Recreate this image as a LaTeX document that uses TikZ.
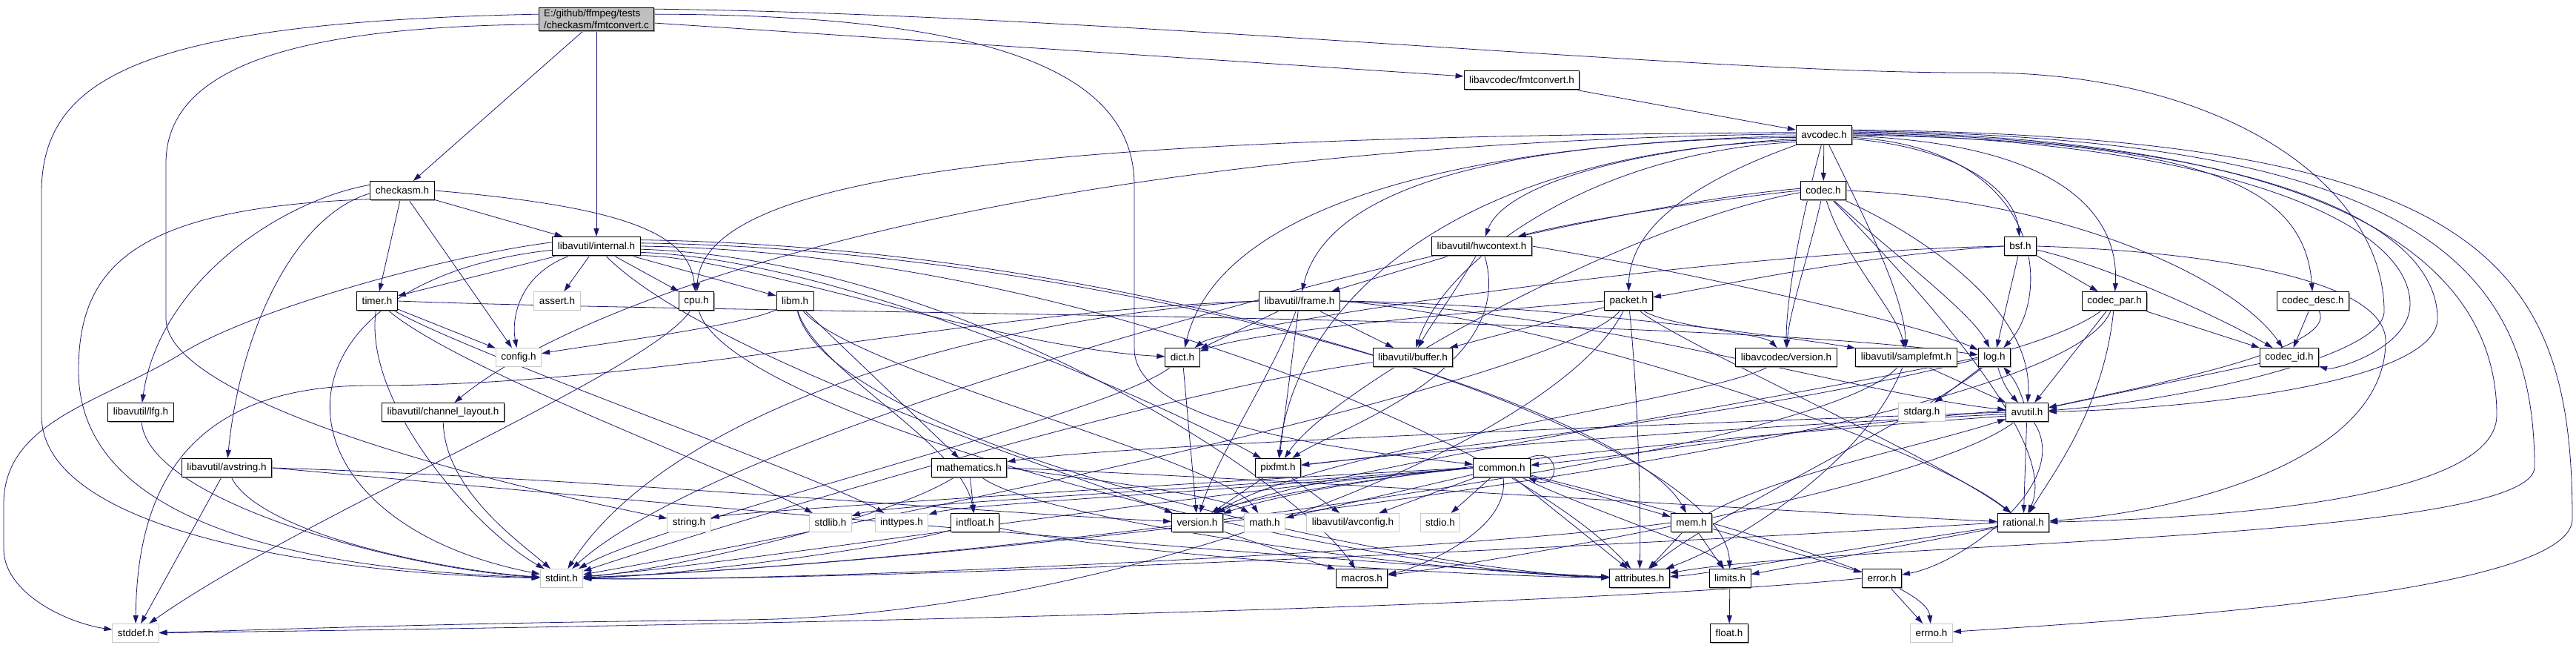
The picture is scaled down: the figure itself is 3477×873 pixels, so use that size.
\documentclass[tikz,border=0pt]{standalone}
\usepackage{fontspec}
\newfontfamily\dotfont{Liberation Sans}
\usetikzlibrary{arrows.meta,shadows,backgrounds}
\definecolor{edgeblue}{HTML}{191970}
\definecolor{rootgray}{HTML}{BFBFBF}
\definecolor{sysgray}{HTML}{C8C8C8}

\begin{document}
\begin{tikzpicture}[x=1pt, y=1pt, >={Triangle[length=11pt,width=7pt]},
		filebox/.style={line width=1pt, fill=white, font=\dotfont\fontsize{13.5}{16}\selectfont, inner xsep=7pt, inner ysep=2pt, minimum height=25pt},
		hfile/.style={filebox, draw=black, drop shadow={shadow xshift=1.2pt, shadow yshift=-1.2pt, fill=gray!75, opacity=1}},
		sysfile/.style={filebox, draw=sysgray},
		root/.style={hfile, fill=rootgray, align=left, inner ysep=3pt},
		dep/.style={->, draw=edgeblue, line width=0.8pt}]
		\useasboundingbox (0,0) rectangle (3477,-873);
		% files
		\node[root] (main) at (805,-26) {E:/github/ffmpeg/tests\\/checkasm/fmtconvert.c};
		\node[hfile] (fmtconvert) at (2054,-108) {libavcodec/fmtconvert.h};
		\node[hfile] (avcodec) at (2462,-182) {avcodec.h};
		\node[hfile] (checkasm) at (543,-257) {checkasm.h};
		\node[hfile] (codec) at (2461,-257) {codec.h};
		\node[hfile] (internal) at (805,-332) {libavutil/internal.h};
		\node[hfile] (hwcontext) at (2000,-332) {libavutil/hwcontext.h};
		\node[hfile] (bsf) at (2727,-332) {bsf.h};
		\node[hfile] (timer) at (509,-406) {timer.h};
		\node[sysfile] (assert) at (752,-406) {assert.h};
		\node[hfile] (cpu) at (940,-406) {cpu.h};
		\node[hfile] (libm) at (1073,-406) {libm.h};
		\node[hfile] (frame) at (1754,-406) {libavutil/frame.h};
		\node[hfile] (packet) at (2198,-406) {packet.h};
		\node[hfile] (codecpar) at (2854,-406) {codec\_par.h};
		\node[hfile] (codecdesc) at (3122,-406) {codec\_desc.h};
		\node[sysfile] (config) at (700,-482) {config.h};
		\node[hfile] (dict) at (1596,-482) {dict.h};
		\node[hfile] (buffer) at (1907,-482) {libavutil/buffer.h};
		\node[hfile] (lavcversion) at (2411,-482) {libavcodec/version.h};
		\node[hfile] (samplefmt) at (2573,-482) {libavutil/samplefmt.h};
		\node[hfile] (log) at (2692,-482) {log.h};
		\node[hfile] (codecid) at (3090,-482) {codec\_id.h};
		\node[hfile] (lfg) at (190,-556) {libavutil/lfg.h};
		\node[hfile] (chlayout) at (598,-556) {libavutil/channel\_layout.h};
		\node[sysfile] (stdarg) at (2594,-556) {stdarg.h};
		\node[hfile] (avutil) at (2736,-556) {avutil.h};
		\node[hfile] (avstring) at (306,-631) {libavutil/avstring.h};
		\node[hfile] (mathematics) at (1308,-631) {mathematics.h};
		\node[hfile] (pixfmt) at (1725,-631) {pixfmt.h};
		\node[hfile] (common) at (2027,-631) {common.h};
		\node[sysfile] (string) at (930,-705) {string.h};
		\node[sysfile] (stdlib) at (1121,-705) {stdlib.h};
		\node[sysfile] (inttypes) at (1217,-705) {inttypes.h};
		\node[hfile] (intfloat) at (1316,-705) {intfloat.h};
		\node[hfile] (version) at (1616,-705) {version.h};
		\node[sysfile] (math) at (1707,-705) {math.h};
		\node[sysfile] (avconfig) at (1826,-705) {libavutil/avconfig.h};
		\node[sysfile] (stdio) at (1944,-705) {stdio.h};
		\node[hfile] (mem) at (2283,-705) {mem.h};
		\node[hfile] (rational) at (2731,-705) {rational.h};
		\node[sysfile] (stdint) at (758,-780) {stdint.h};
		\node[hfile] (macros) at (1838,-780) {macros.h};
		\node[hfile] (attributes) at (2213,-780) {attributes.h};
		\node[hfile] (limits) at (2335,-780) {limits.h};
		\node[hfile] (error) at (2540,-780) {error.h};
		\node[sysfile] (stddef) at (183,-854) {stddef.h};
		\node[hfile] (float) at (2334,-854) {float.h};
		\node[sysfile] (errno) at (2607,-854) {errno.h};
		\begin{scope}[on background layer]
		% main file
		\draw[dep] (main.175) .. controls (200,-30) and (56,-100) .. (56,-260) -- (56,-560) .. controls (56,-720) and (450,-775) .. (stdint);
		\draw[dep] (main.185) .. controls (400,-36) and (224,-90) .. (224,-220) -- (224,-430) .. controls (224,-540) and (650,-650) .. (string);
		\draw[dep] (main) -- (checkasm);
		\draw[dep] (main) -- (internal);
		\draw[dep] (main) -- (fmtconvert);
		\draw[dep] (main.5) .. controls (1350,-20) and (1531,-100) .. (1531,-250) -- (1531,-470) .. controls (1531,-580) and (1850,-610) .. (common);
		\draw[dep] (main.10) .. controls (1500,-20) and (2300,-100) .. (2668,-98) .. controls (3000,-96) and (3218,-250) .. (3218,-420) .. controls (3218,-480) and (2950,-540) .. (avutil);
		\draw[dep] (fmtconvert) -- (avcodec);
		% avcodec.h
		\draw[dep] (avcodec) -- (codec);
		\draw[dep] (avcodec.175) .. controls (1500,-185) and (950,-220) .. (cpu);
		\draw[dep] (avcodec.178) .. controls (1300,-195) and (760,-420) .. (chlayout);
		\draw[dep] (avcodec.182) .. controls (1900,-195) and (1640,-300) .. (dict);
		\draw[dep] (avcodec.185) .. controls (2000,-190) and (1790,-260) .. (frame);
		\draw[dep] (avcodec.188) .. controls (2200,-200) and (2030,-250) .. (hwcontext);
		\draw[dep] (avcodec.191) .. controls (1950,-205) and (1745,-420) .. (pixfmt);
		\draw[dep] (avcodec.194) .. controls (2150,-205) and (1950,-350) .. (buffer);
		\draw[dep] (avcodec) .. controls (2300,-240) and (2200,-300) .. (packet);
		\draw[dep] (avcodec) .. controls (2430,-300) and (2411,-400) .. (lavcversion);
		\draw[dep] (avcodec) .. controls (2520,-300) and (2570,-400) .. (samplefmt);
		\draw[dep] (avcodec.-5) .. controls (2760,-200) and (2770,-400) .. (log);
		\draw[dep] (avcodec.-8) .. controls (2650,-200) and (2720,-260) .. (bsf);
		\draw[dep] (avcodec.-2) .. controls (2800,-195) and (2860,-300) .. (codecpar);
		\draw[dep] (avcodec.0) .. controls (2950,-190) and (3110,-240) .. (codecdesc);
		\draw[dep] (avcodec.2) .. controls (3000,-190) and (3253,-300) .. (3253,-410) .. controls (3253,-470) and (3150,-500) .. (codecid);
		\draw[dep] (avcodec.4) .. controls (3050,-188) and (3290,-300) .. (3290,-430) .. controls (3290,-510) and (3000,-550) .. (avutil);
		\draw[dep] (avcodec.6) .. controls (3150,-186) and (3370,-350) .. (3370,-560) .. controls (3370,-680) and (2950,-700) .. (rational);
		\draw[dep] (avcodec.8) .. controls (3250,-185) and (3421,-350) .. (3421,-630) .. controls (3421,-730) and (2500,-730) .. (attributes);
		\draw[dep] (avcodec.10) .. controls (3350,-184) and (3472,-350) .. (3472,-700) .. controls (3472,-800) and (2900,-835) .. (errno);
		% checkasm.h
		\draw[dep] (checkasm) -- (timer);
		\draw[dep] (checkasm) -- (internal);
		\draw[dep] (checkasm.east) .. controls (860,-280) and (930,-320) .. (cpu);
		\draw[dep] (checkasm) -- (config);
		\draw[dep] (checkasm.170) .. controls (380,-270) and (215,-380) .. (lfg);
		\draw[dep] (checkasm.185) .. controls (400,-290) and (325,-440) .. (avstring);
		\draw[dep] (checkasm.195) .. controls (180,-280) and (106,-360) .. (106,-500) .. controls (106,-720) and (450,-770) .. (stdint);
		% internal.h
		\draw[dep] (internal) -- (timer);
		\draw[dep] (internal) -- (assert);
		\draw[dep] (internal) -- (cpu);
		\draw[dep] (internal) -- (libm);
		\draw[dep] (internal) .. controls (700,-370) and (690,-430) .. (config);
		\draw[dep] (internal.185) .. controls (350,-380) and (350,-700) .. (stdint);
		\draw[dep] (internal.175) .. controls (600,-345) and (330,-420) .. (240,-480) .. controls (130,-545) and (5,-570) .. (5,-680) -- (5,-740) .. controls (5,-800) and (90,-840) .. (stddef);
		\draw[dep] (internal.-12) .. controls (1000,-345) and (1350,-470) .. (dict);
		\draw[dep] (internal.-8) .. controls (1150,-350) and (1600,-560) .. (pixfmt);
		\draw[dep] (internal) .. controls (950,-480) and (1450,-640) .. (version);
		\draw[dep] (internal.-4) .. controls (1300,-350) and (1750,-650) .. (macros);
		\draw[dep] (internal.0) .. controls (1450,-340) and (2050,-600) .. (attributes);
		\draw[dep] (internal.4) .. controls (1500,-336) and (2200,-550) .. (mem);
		\draw[dep] (internal.8) .. controls (1600,-334) and (2330,-600) .. (limits);
		% timer.h, cpu.h, libm.h
		\draw[dep] (timer) -- (config);
		\draw[dep] (timer) .. controls (490,-550) and (650,-720) .. (stdint);
		\draw[dep] (timer) .. controls (620,-500) and (1000,-640) .. (stdlib);
		\draw[dep] (timer) .. controls (640,-480) and (1100,-640) .. (inttypes);
		\draw[dep] (timer.east) .. controls (1000,-424) and (2300,-424) .. (log);
		\draw[dep] (cpu) .. controls (880,-500) and (400,-700) .. (stddef);
		\draw[dep] (cpu) .. controls (980,-560) and (1800,-770) .. (attributes);
		\draw[dep] (libm) .. controls (1000,-440) and (800,-465) .. (config);
		\draw[dep] (libm) -- (mathematics);
		\draw[dep] (libm) .. controls (1100,-500) and (1300,-600) .. (intfloat);
		\draw[dep] (libm) .. controls (1150,-500) and (1650,-620) .. (math);
		\draw[dep] (libm) .. controls (1120,-600) and (1900,-770) .. (attributes);
		% frame.h, hwcontext.h
		\draw[dep] (frame) -- (buffer);
		\draw[dep] (frame) -- (dict);
		\draw[dep] (frame) -- (pixfmt);
		\draw[dep] (frame) .. controls (1720,-500) and (1640,-620) .. (version);
		\draw[dep] (frame.east) .. controls (2100,-410) and (2450,-460) .. (samplefmt);
		\draw[dep] (frame.east) .. controls (2150,-420) and (2500,-530) .. (avutil);
		\draw[dep] (frame.east) .. controls (2100,-430) and (2600,-600) .. (rational);
		\draw[dep] (frame.west) .. controls (1300,-430) and (900,-560) .. (stdint);
		\draw[dep] (frame.west) .. controls (1300,-420) and (900,-520) .. (500,-520) .. controls (260,-520) and (185,-650) .. (stddef);
		\draw[dep] (hwcontext) -- (frame);
		\draw[dep] (hwcontext) .. controls (1960,-400) and (1930,-440) .. (buffer);
		\draw[dep] (hwcontext.east) .. controls (2300,-370) and (2600,-440) .. (log);
		\draw[dep] (hwcontext) .. controls (2050,-500) and (1800,-580) .. (pixfmt);
		% packet.h
		\draw[dep] (packet) -- (buffer);
		\draw[dep] (packet.west) .. controls (2000,-420) and (1700,-445) .. (dict);
		\draw[dep] (packet) .. controls (2250,-440) and (2380,-450) .. (lavcversion);
		\draw[dep] (packet) .. controls (2210,-520) and (2215,-680) .. (attributes);
		\draw[dep] (packet) .. controls (2260,-460) and (2620,-620) .. (rational);
		\draw[dep] (packet) .. controls (2100,-520) and (1100,-720) .. (stdint);
		\draw[dep] (packet) .. controls (2100,-600) and (1500,-832) .. (1000,-836) .. controls (600,-840) and (350,-850) .. (stddef);
		% bsf.h
		\draw[dep] (bsf) -- (log);
		\draw[dep] (bsf) -- (codecpar);
		\draw[dep] (bsf.west) .. controls (2500,-345) and (2300,-390) .. (packet);
		\draw[dep] (bsf.west) .. controls (2300,-340) and (1650,-440) .. (dict);
		\draw[dep] (bsf) .. controls (2850,-360) and (3000,-430) .. (codecid);
		\draw[dep] (bsf.east) .. controls (3000,-340) and (3220,-380) .. (3220,-460) .. controls (3220,-620) and (2950,-690) .. (rational);
		% codec.h
		\draw[dep] (codec.west) .. controls (2300,-270) and (2120,-300) .. (hwcontext);
		\draw[dep] (codec) .. controls (2440,-350) and (2415,-420) .. (lavcversion);
		\draw[dep] (codec) .. controls (2490,-350) and (2560,-420) .. (samplefmt);
		\draw[dep] (codec) .. controls (2540,-330) and (2660,-420) .. (log);
		\draw[dep] (codec) .. controls (2600,-320) and (2745,-420) .. (avutil);
		\draw[dep] (codec) .. controls (2600,-400) and (2780,-600) .. (rational);
		\draw[dep] (codec.185) .. controls (2200,-300) and (1800,-520) .. (pixfmt);
		\draw[dep] (codec.175) .. controls (2100,-280) and (1000,-560) .. (stdint);
		\draw[dep] (codec.east) .. controls (2800,-270) and (3020,-380) .. (codecid);
		% codec_par.h, codec_desc.h, codec_id.h
		\draw[dep] (codecpar) -- (codecid);
		\draw[dep] (codecpar) -- (avutil);
		\draw[dep] (codecpar) .. controls (2840,-550) and (2770,-640) .. (rational);
		\draw[dep] (codecpar) .. controls (2700,-520) and (2000,-600) .. (pixfmt);
		\draw[dep] (codecpar) .. controls (2780,-600) and (1300,-760) .. (stdint);
		\draw[dep] (codecdesc) -- (codecid);
		\draw[dep] (codecdesc) .. controls (3160,-470) and (2900,-520) .. (avutil);
		\draw[dep] (codecid) -- (avutil);
		% dict.h, buffer.h, version
		\draw[dep] (dict) -- (version);
		\draw[dep] (dict) .. controls (1500,-560) and (900,-700) .. (stdint);
		\draw[dep] (buffer) .. controls (1600,-520) and (1000,-700) .. (stdint);
		\draw[dep] (lavcversion) .. controls (2300,-540) and (1800,-600) .. (version);
		% samplefmt.h, log.h
		\draw[dep] (samplefmt) -- (avutil);
		\draw[dep] (samplefmt) .. controls (2520,-620) and (2350,-730) .. (attributes);
		\draw[dep] (samplefmt) .. controls (2450,-620) and (1300,-760) .. (stdint);
		\draw[dep] (log) -- (stdarg);
		\draw[dep] (log) to[bend right=12] (avutil);
		\draw[dep] (avutil) to[bend right=12] (log);
		\draw[dep] (log) .. controls (2600,-560) and (2300,-700) .. (attributes);
		\draw[dep] (log.west) .. controls (2400,-540) and (1750,-640) .. (version);
		% left column
		\draw[dep] (lfg) .. controls (200,-680) and (560,-770) .. (stdint);
		\draw[dep] (chlayout) .. controls (600,-660) and (700,-730) .. (stdint);
		\draw[dep] (avstring) -- (stddef);
		\draw[dep] (avstring) .. controls (350,-720) and (600,-770) .. (stdint);
		\draw[dep] (avstring.east) .. controls (800,-645) and (1300,-690) .. (version);
		\draw[dep] (avstring.east) .. controls (800,-670) and (1800,-760) .. (attributes);
		% avutil.h
		\draw[dep] (avutil) -- (rational);
		\draw[dep] (avutil.175) .. controls (2400,-580) and (2200,-615) .. (common);
		\draw[dep] (avutil.180) .. controls (2300,-570) and (1500,-600) .. (mathematics);
		\draw[dep] (avutil.185) .. controls (2300,-578) and (1900,-610) .. (pixfmt);
		\draw[dep] (avutil.190) .. controls (2300,-590) and (1800,-640) .. (version);
		\draw[dep] (avutil) .. controls (2600,-660) and (2000,-760) .. (macros);
		\draw[dep] (avutil) .. controls (2800,-650) and (2650,-760) .. (error);
		% mathematics.h, intfloat.h, pixfmt.h
		\draw[dep] (mathematics) -- (intfloat);
		\draw[dep] (mathematics) .. controls (1200,-700) and (900,-770) .. (stdint);
		\draw[dep] (mathematics.east) .. controls (1500,-650) and (1650,-670) .. (math);
		\draw[dep] (mathematics) .. controls (1400,-700) and (1900,-770) .. (attributes);
		\draw[dep] (mathematics.east) .. controls (1800,-650) and (2400,-690) .. (rational);
		\draw[dep] (intfloat) .. controls (1200,-740) and (900,-778) .. (stdint);
		\draw[dep] (intfloat) .. controls (1500,-745) and (1900,-775) .. (attributes);
		\draw[dep] (pixfmt) -- (avconfig);
		\draw[dep] (pixfmt) -- (version);
		\draw[dep] (version) -- (macros);
		% common.h
		\draw[dep] (common) -- (math);
		\draw[dep] (common) -- (avconfig);
		\draw[dep] (common) -- (stdio);
		\draw[dep] (common) -- (mem);
		\draw[dep] (common) -- (attributes);
		\draw[dep] (common) .. controls (2040,-720) and (1900,-770) .. (macros);
		\draw[dep] (common.west) .. controls (1800,-650) and (1660,-680) .. (version);
		\draw[dep] (common.west) .. controls (1700,-660) and (1300,-680) .. (inttypes);
		\draw[dep] (common.west) .. controls (1700,-655) and (1200,-680) .. (stdlib);
		\draw[dep] (common.west) .. controls (1700,-645) and (1000,-690) .. (string);
		\draw[dep] (common.west) .. controls (1600,-665) and (1000,-760) .. (stdint);
		\draw[dep] (common) .. controls (2150,-690) and (2310,-740) .. (limits);
		\draw[dep] (common) .. controls (2300,-700) and (2600,-780) .. (errno);
		\draw[dep] (common.20) .. controls +(45,20) and +(45,-20) .. (common.-20);
		% mem.h, rational.h, error.h, limits.h
		\draw[dep] (mem) -- (limits);
		\draw[dep] (mem) -- (attributes);
		\draw[dep] (mem) -- (error);
		\draw[dep] (mem.west) .. controls (2000,-740) and (1100,-785) .. (stdint);
		\draw[dep] (mem) .. controls (2400,-640) and (2600,-600) .. (avutil);
		\draw[dep] (rational) -- (limits);
		\draw[dep] (rational) .. controls (2500,-740) and (2300,-775) .. (attributes);
		\draw[dep] (rational.west) .. controls (2300,-730) and (1200,-785) .. (stdint);
		\draw[dep] (error) -- (errno);
		\draw[dep] (error.west) .. controls (2000,-830) and (500,-850) .. (stddef);
		\draw[dep] (limits) -- (float);
		\end{scope}
	\end{tikzpicture}
\end{document}
